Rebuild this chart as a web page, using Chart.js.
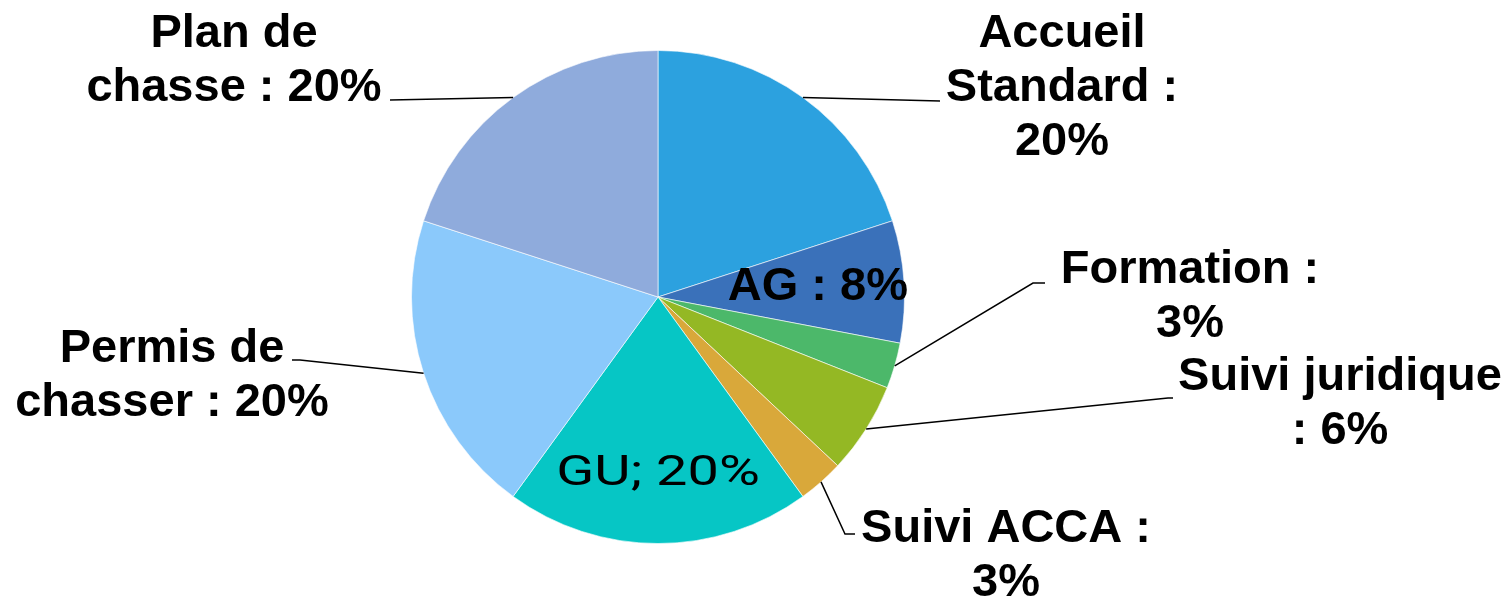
<!DOCTYPE html>
<html>
<head>
<meta charset="utf-8">
<script src="https://cdn.jsdelivr.net/npm/chart.js@4"></script>
<style>
  html, body { margin: 0; padding: 0; background: #fff; }
  #wrap { width: 1511px; height: 598px; position: relative; }
</style>
</head>
<body>
<div id="wrap"><canvas id="graf"></canvas></div>
<script>
// donnees
const categories = ['Accueil Standard', 'AG', 'Formation', 'Suivi juridique', 'Suivi ACCA', 'GU', 'Permis de chasser', 'Plan de chasse'];
const valeurs = [20, 8, 3, 6, 3, 20, 20, 20];
const couleurs = ['#2ca1df', '#3a71ba', '#4cb86a', '#94b824', '#d9a83a', '#06c6c5', '#8bc9fb', '#8fabdc'];
const etiquettes = [
  ['Accueil', 'Standard :', '20%'],
  ['AG : 8%'],
  ['Formation :', '3%'],
  ['Suivi juridique', ': 6%'],
  ['Suivi ACCA :', '3%'],
  ['GU; 20%'],
  ['Permis de', 'chasser : 20%'],
  ['Plan de', 'chasse : 20%']
];

// placement des etiquettes, relatif au centre du camembert
// inside: fraction du rayon ; sinon tx/ty = centre du texte + 1re ligne, pts = ligne de rappel
const placement = [
  { tx: 404, ty: -250, pts: [[282, -196]] },
  { inside: 0.65, font: 'bold 47px "Liberation Sans"', sx: 1 },
  { tx: 532, ty: -14, pts: [[375, -14], [387, -14]] },
  { tx: 682, ty: 93, pts: [[510, 101], [515, 101]] },
  { tx: 348, ty: 245, pts: [[187, 237], [197, 237]] },
  { inside: 0.72, font: '42px Roboto', sx: 1.33 },
  { tx: -486, ty: 65, pts: [[-358, 63], [-366, 63]] },
  { tx: -424, ty: -250, pts: [[-268, -197]] }
];

const etiquettesPlugin = {
  id: 'etiquettes',
  afterDatasetsDraw(chart) {
    const ctx = chart.ctx;
    const arcs = chart.getDatasetMeta(0).data;
    ctx.save();
    ctx.fillStyle = '#000';
    ctx.strokeStyle = '#000';
    ctx.lineWidth = 1.5;
    arcs.forEach((arc, i) => {
      const p = placement[i];
      const cx = arc.x, cy = arc.y, R = arc.outerRadius;
      const mid = (arc.startAngle + arc.endAngle) / 2;
      const lignes = etiquettes[i];
      if (p.inside) {
        ctx.save();
        ctx.font = p.font;
        ctx.textAlign = 'center';
        ctx.textBaseline = 'middle';
        ctx.translate(cx + Math.cos(mid) * R * p.inside, cy + Math.sin(mid) * R * p.inside);
        ctx.scale(p.sx, 1);
        ctx.fillText(lignes[0], 0, 0);
        ctx.restore();
        return;
      }
      // ligne de rappel depuis le bord de la part
      ctx.beginPath();
      ctx.moveTo(cx + Math.cos(mid) * R, cy + Math.sin(mid) * R);
      p.pts.forEach(q => ctx.lineTo(cx + q[0], cy + q[1]));
      ctx.stroke();
      ctx.font = 'bold 47px "Liberation Sans"';
      ctx.textAlign = 'center';
      ctx.textBaseline = 'alphabetic';
      lignes.forEach((t, k) => ctx.fillText(t, cx + p.tx, cy + p.ty + k * 54));
    });
    ctx.restore();
  }
};

new Chart(document.getElementById('graf'), {
  type: 'pie',
  data: {
    labels: categories,
    datasets: [{
      data: valeurs,
      backgroundColor: couleurs,
      borderColor: 'rgba(255,255,255,0.6)',
      borderWidth: 1
    }]
  },
  options: {
    responsive: true,
    maintainAspectRatio: false,
    animation: false,
    layout: {
      padding: { left: 0, right: 195, top: 50, bottom: 54 }
    },
    plugins: {
      legend: { display: false },
      tooltip: { enabled: false }
    }
  },
  plugins: [etiquettesPlugin]
});
</script>
</body>
</html>
